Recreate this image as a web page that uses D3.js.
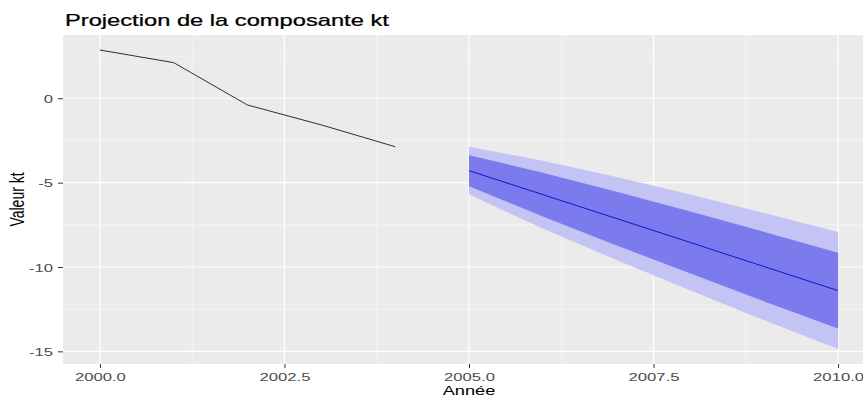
<!DOCTYPE html>
<html>
<head>
<meta charset="utf-8">
<script src="https://cdn.jsdelivr.net/npm/d3@7"></script>
<style>
  body { margin: 0; background: #fff; }
  text { font-family: "Liberation Sans", Arial, sans-serif; }
</style>
</head>
<body>
<svg id="chart" width="863" height="398"></svg>
<script>
// Observed series (kt component)
const histYears = [2000, 2001, 2002, 2003, 2004];
const histValues = [2.86, 2.11, -0.40, -1.58, -2.87];

// Forecast with 80% and 95% intervals
const fcYears = [2005, 2006, 2007, 2008, 2009, 2010];
const fcMean = [-4.29, -5.71, -7.13, -8.55, -9.98, -11.40];
const lo80 = [-5.21, -7.01, -8.72, -10.39, -12.04, -13.65];
const hi80 = [-3.37, -4.41, -5.54, -6.71, -7.92, -9.15];
const lo95 = [-5.71, -7.72, -9.59, -11.39, -13.16, -14.86];
const hi95 = [-2.87, -3.70, -4.67, -5.71, -6.80, -7.92];

const xTicks = [2000, 2002.5, 2005, 2007.5, 2010];
const xMinor = [2001.25, 2003.75, 2006.25, 2008.75];
const yTicks = [0, -5, -10, -15];
const yMinor = [2.5, -2.5, -7.5, -12.5];

const svg = d3.select("#chart");
const SX = 1.45; // text in the picture is stretched horizontally

const x = d3.scaleLinear().domain([1999.5, 2010.5]).range([63, 875]);
const y = d3.scaleLinear().domain([-15.75, 3.75]).range([364, 35]);

svg.append("defs").append("clipPath").attr("id", "clip")
  .append("rect").attr("x", 63).attr("y", 35).attr("width", 812).attr("height", 329);

// panel
svg.append("rect")
  .attr("x", 63).attr("y", 35)
  .attr("width", 812).attr("height", 329)
  .attr("fill", "#ebebeb");

let grid = svg.append("g").attr("clip-path", "url(#clip)");
grid.selectAll(".ymin").data(yMinor).join("line")
  .attr("x1", 63).attr("x2", 875)
  .attr("y1", d => y(d)).attr("y2", d => y(d))
  .attr("stroke", "#fafafa").attr("stroke-width", 0.6);
grid.selectAll(".xmin").data(xMinor).join("line")
  .attr("y1", 35).attr("y2", 364)
  .attr("x1", d => x(d)).attr("x2", d => x(d))
  .attr("stroke", "#fafafa").attr("stroke-width", 0.6);
grid.selectAll(".ymaj").data(yTicks).join("line")
  .attr("x1", 63).attr("x2", 875)
  .attr("y1", d => y(d)).attr("y2", d => y(d))
  .attr("stroke", "#fff").attr("stroke-width", 1.2);
grid.selectAll(".xmaj").data(xTicks).join("line")
  .attr("y1", 35).attr("y2", 364)
  .attr("x1", d => x(d)).attr("x2", d => x(d))
  .attr("stroke", "#fff").attr("stroke-width", 1.2);

// forecast bands
const fc = fcYears.map((yr, i) => ({year: yr, mean: fcMean[i], lo80: lo80[i], hi80: hi80[i], lo95: lo95[i], hi95: hi95[i]}));

svg.append("path").datum(fc)
  .attr("fill", "#c4c4f4")
  .attr("d", d3.area().x(d => x(d.year)).y0(d => y(d.lo95)).y1(d => y(d.hi95)));
svg.append("path").datum(fc)
  .attr("fill", "#7b7bee")
  .attr("d", d3.area().x(d => x(d.year)).y0(d => y(d.lo80)).y1(d => y(d.hi80)));
svg.append("path").datum(fc)
  .attr("fill", "none").attr("stroke", "#1414cc").attr("stroke-width", 1)
  .attr("d", d3.line().x(d => x(d.year)).y(d => y(d.mean)));

// observed line
svg.append("path").datum(histYears.map((yr, i) => ({year: yr, v: histValues[i]})))
  .attr("fill", "none").attr("stroke", "#1a1a1a").attr("stroke-width", 0.9)
  .attr("d", d3.line().x(d => x(d.year)).y(d => y(d.v)));

// axes
let xAxis = svg.append("g")
  .attr("transform", "translate(0,364)")
  .call(d3.axisBottom(x).tickValues(xTicks).tickSize(4).tickFormat(d3.format(".1f")));
xAxis.select(".domain").remove();
xAxis.selectAll("line").attr("stroke", "#333");
xAxis.selectAll("text")
  .attr("y", 9).attr("dy", "0.71em")
  .attr("transform", `scale(${SX},1)`)
  .attr("font-size", 11.5).attr("fill", "#4d4d4d");

let yAxis = svg.append("g")
  .attr("transform", "translate(63,0)")
  .call(d3.axisLeft(y).tickValues(yTicks).tickSize(5).tickFormat(d3.format("d")));
yAxis.select(".domain").remove();
yAxis.selectAll("line").attr("stroke", "#333");
yAxis.selectAll("text")
  .attr("x", -10 / SX).attr("dy", "0.36em")
  .attr("transform", `scale(${SX},1)`)
  .attr("font-size", 11.5).attr("fill", "#4d4d4d")
  .text(d => d3.format("d")(d).replace("−", "-"));

// titles
svg.append("text")
  .attr("transform", "translate(65,25.7) scale(1.5,1)")
  .attr("font-size", 15.8).attr("fill", "#000")
  .attr("stroke", "#000").attr("stroke-width", 0.25)
  .text("Projection de la composante kt");

svg.append("text")
  .attr("transform", `translate(469,395) scale(1.4,1)`)
  .attr("text-anchor", "middle")
  .attr("font-size", 13).attr("fill", "#000")
  .text("Année");

svg.append("text")
  .attr("transform", `translate(24,199.5) scale(1.4,1) rotate(-90)`)
  .attr("text-anchor", "middle")
  .attr("font-size", 14).attr("fill", "#000")
  .text("Valeur kt");
</script>
</body>
</html>
